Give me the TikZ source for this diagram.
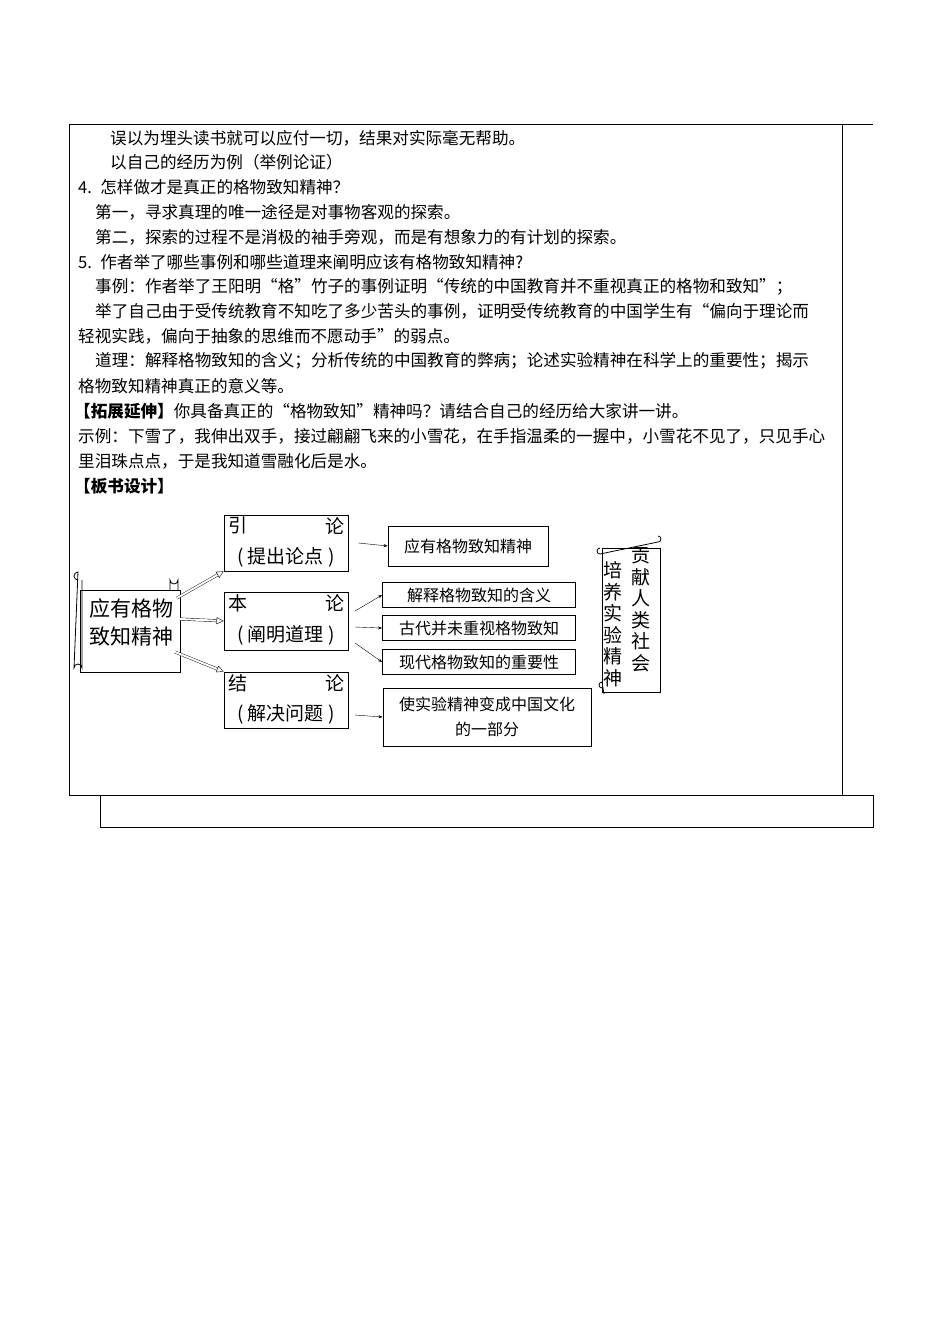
\documentclass[tikz,border=0pt]{standalone}
\usepackage{fontspec}
\newfontfamily\cjk{Noto Sans CJK SC}
\usetikzlibrary{arrows.meta,calc}
\tikzset{bx/.style={draw,thick,inner sep=0},
 tl/.style={anchor=west,inner sep=0,font=\cjk\fontsize{16.6}{18}\selectfont},
 hol/.style={double,double distance=2pt,-{Triangle[open,length=7pt,width=7pt]}},
 thin arr/.style={-{Stealth[length=4pt]}}}
\begin{document}
\begin{tikzpicture}[x=1pt,y=-1pt]
\useasboundingbox (0,0) rectangle (950,1344);
\fill[white] (0,0) rectangle (950,1344);
% table
\draw (69,124) -- (873,124);
\draw (69,124) -- (69,795) -- (873,795);
\draw (842,124) -- (842,795);
\draw (100,795) rectangle (873,827);
% text
\node[tl] (t1) at (110,138) {误以为埋头读书就可以应付一切，结果对实际毫无帮助。};
\node[tl] (t2) at (110,162) {以自己的经历为例（举例论证）};
\node[tl] (t3) at (78,187) {4.\enspace 怎样做才是真正的格物致知精神？};
\node[tl] (t4) at (95,212) {第一，寻求真理的唯一途径是对事物客观的探索。};
\node[tl] (t5) at (95,237) {第二，探索的过程不是消极的袖手旁观，而是有想象力的有计划的探索。};
\node[tl] (t6) at (78,262) {5.\enspace 作者举了哪些事例和哪些道理来阐明应该有格物致知精神?};
\node[tl] (t7) at (95,287) {事例：作者举了王阳明“格”竹子的事例证明“传统的中国教育并不重视真正的格物和致知”；};
\node[tl] (t8) at (95,311) {举了自己由于受传统教育不知吃了多少苦头的事例，证明受传统教育的中国学生有“偏向于理论而};
\node[tl] (t9) at (78,336) {轻视实践，偏向于抽象的思维而不愿动手”的弱点。};
\node[tl] (t10) at (95,361) {道理：解释格物致知的含义；分析传统的中国教育的弊病；论述实验精神在科学上的重要性；揭示};
\node[tl] (t11) at (78,386) {格物致知精神真正的意义等。};
\node[tl] (t12) at (74,411) {\textbf{【拓展延伸】}你具备真正的“格物致知”精神吗？请结合自己的经历给大家讲一讲。};
\node[tl] (t13) at (78,436) {示例：下雪了，我伸出双手，接过翩翩飞来的小雪花，在手指温柔的一握中，小雪花不见了，只见手心};
\node[tl] (t14) at (78,461) {里泪珠点点，于是我知道雪融化后是水。};
\node[tl] (t15) at (74,486) {\textbf{【板书设计】}};
% diagram
\begin{scope}[font=\cjk\fontsize{19}{26}\selectfont]
\draw[thick] (80,590) rectangle (180,672);
\draw[thick] (78,580) arc (90:270:4) -- (74,668) arc (180:360:4) -- (82,580);
\draw[thick] (170,590) -- (170,580) arc (180:0:4) -- (178,590);
\node[align=center,font=\cjk\fontsize{21}{28}\selectfont,inner sep=0] (sc) at (131,622) {应有格物\\致知精神};
\coordinate (scR) at (180,619);
\node[bx,minimum width=124,minimum height=56] (y) at (286,543) {};
\node[anchor=north west,inner sep=0] at (228,517) {引};
\node[anchor=north east,inner sep=0] at (345,517) {论};
\node[inner sep=0] at (286,557) {(\ 提出论点\ )};
\node[bx,minimum width=124,minimum height=58] (b) at (286,621) {};
\node[anchor=north west,inner sep=0] at (228,594) {本};
\node[anchor=north east,inner sep=0] at (345,594) {论};
\node[inner sep=0] at (286,635) {(\ 阐明道理\ )};
\node[bx,minimum width=124,minimum height=56] (j) at (286,700) {};
\node[anchor=north west,inner sep=0] at (228,674) {结};
\node[anchor=north east,inner sep=0] at (345,674) {论};
\node[inner sep=0] at (286,714) {(\ 解决问题\ )};
\end{scope}
\begin{scope}[font=\cjk\fontsize{16}{25}\selectfont]
\node[bx,minimum width=160,minimum height=40] (a1) at (468,546) {应有格物致知精神};
\node[bx,minimum width=193,minimum height=25] (a2) at (479,595) {解释格物致知的含义};
\node[bx,minimum width=193,minimum height=25] (a3) at (479,628) {古代并未重视格物致知};
\node[bx,minimum width=193,minimum height=25] (a4) at (479,662) {现代格物致知的重要性};
\node[bx,minimum width=208,minimum height=58,align=center] (a5) at (487,717) {使实验精神变成中国文化\\的一部分};
\end{scope}
\draw[thick] (602,548) rectangle (660,692);
\draw[thick] (600,548) arc (270:90:3) -- (658,542) arc (90:-90:3);
\draw[thick] (602,688) arc (90:270:3) -- (604,694);
\node[font=\cjk\fontsize{19}{21.5}\selectfont,align=center,inner sep=0] (r1) at (613,624) {培\\养\\实\\验\\精\\神};
\node[font=\cjk\fontsize{19}{21.5}\selectfont,align=center,inner sep=0] (r2) at (641,610) {贡\\献\\人\\类\\社\\会};
% arrows
\draw[hol] (177,598) -- (y.south west);
\draw[hol] (scR) -- (b.west);
\draw[hol] (175,652) -- (j.north west);
\draw[thin arr] ($(y.east)+(10,0)$) -- (a1.west);
\draw[thin arr] (355,611) -- (a2.west);
\draw[thin arr] (355,627) -- (a3.west);
\draw[thin arr] (355,643) -- (a4.west);
\draw[thin arr] (355,715) -- (a5.west);
\end{tikzpicture}
\end{document}
